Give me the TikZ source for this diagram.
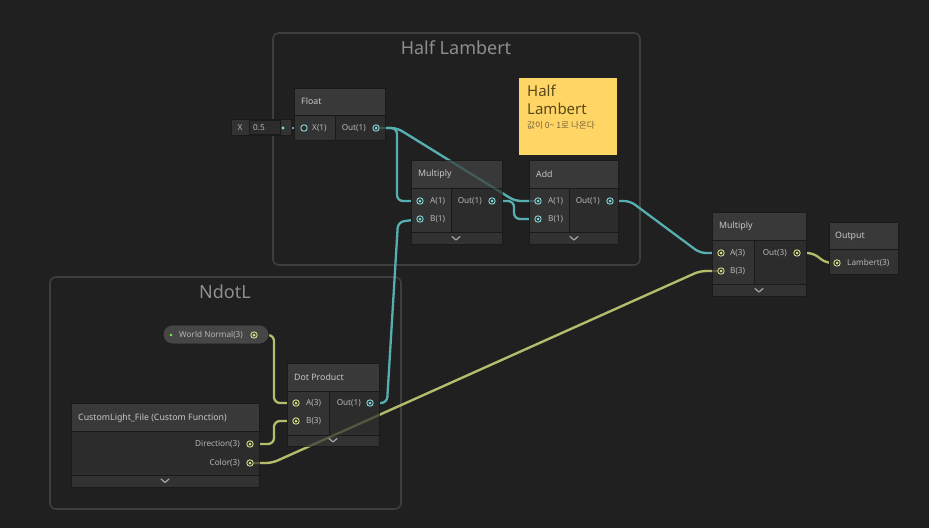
\documentclass[tikz,border=0pt]{standalone}
\usepackage{fontspec}
\setmainfont{Noto Sans}
\newfontfamily\krfont{Noto Sans CJK KR}
\usetikzlibrary{calc}
\definecolor{bg}{HTML}{202020}
\definecolor{grpedge}{HTML}{3E3E3E}
\definecolor{grptext}{HTML}{8E8E8E}
\definecolor{hdr}{HTML}{393939}
\definecolor{inA}{HTML}{333333}
\definecolor{outA}{HTML}{2C2C2C}
\definecolor{foot}{HTML}{323232}
\definecolor{edge}{HTML}{1A1A1A}
\definecolor{ttext}{HTML}{C6C6C6}
\definecolor{ptext}{HTML}{B6B6B6}
\definecolor{tealw}{HTML}{57AEB0}
\definecolor{tealp}{HTML}{86D9DA}
\definecolor{yelw}{HTML}{B5BC6C}
\definecolor{yelp}{HTML}{D8DD88}
\definecolor{sticky}{HTML}{FFD566}
\definecolor{stext}{HTML}{5A4818}
\definecolor{pill}{HTML}{464646}
\begin{document}
\begin{tikzpicture}[x=1pt,y=-1pt,
  box/.style={draw=edge, line width=0.6pt, inner sep=0pt, outer sep=0pt, anchor=north west},
  grp/.style={draw=grpedge, line width=1.6pt, rounded corners=6pt, fill=bg},
  grptitle/.style={text=grptext, font=\fontsize{18}{20}\selectfont, inner sep=0pt},
  ntitle/.style={text=ttext, font=\fontsize{8.8}{10}\selectfont, anchor=west, inner sep=0pt},
  plabel/.style={text=ptext, font=\fontsize{8.2}{10}\selectfont, inner sep=0pt},
  tp/.style={circle, draw=tealp, line width=0.9pt, fill=outA, minimum size=6.4pt, inner sep=0pt,
    path picture={\fill[tealp] (path picture bounding box.center) circle (1.5pt);}},
  tph/.style={circle, draw=tealp, line width=0.9pt, fill=outA, minimum size=6.4pt, inner sep=0pt},
  yp/.style={circle, draw=yelp, line width=0.9pt, fill=outA, minimum size=6.4pt, inner sep=0pt,
    path picture={\fill[yelp] (path picture bounding box.center) circle (1.5pt);}},
  twire/.style={draw=tealw, line width=2.3pt, rounded corners=6pt},
  ywire/.style={draw=yelw, line width=2.3pt, rounded corners=6pt},
  chev/.style={draw=ptext!120, line width=1.2pt, line cap=round, line join=round}
]
\useasboundingbox (0,0) rectangle (929,528);
\fill[bg] (0,0) rectangle (929,528);

% groups
\draw[grp] (273,33) rectangle (640,265);
\node[grptitle] (g1) at (456,47.5) {Half Lambert};
\draw[grp] (50,277) rectangle (401,509);
\node[grptitle] (g2) at (225,291.5) {NdotL};

% port coordinates
\coordinate (cfOut) at (376,128);
\coordinate (cfIn) at (304,128);
\coordinate (cmA) at (420,201);
\coordinate (cmB) at (420,219);
\coordinate (cmOut) at (492,201);
\coordinate (caA) at (538,201);
\coordinate (caB) at (538,219);
\coordinate (caOut) at (610,201);
\coordinate (cm2A) at (721,253);
\coordinate (cm2B) at (721,271);
\coordinate (cm2Out) at (797,253);
\coordinate (coIn) at (837,263);
\coordinate (cwn) at (254,335);
\coordinate (cdA) at (296,403);
\coordinate (cdB) at (296,421);
\coordinate (cdOut) at (370,403);
\coordinate (cdir) at (250,444);
\coordinate (ccol) at (250,463);
\coordinate (cxv) at (283,128);

% wires (under nodes)
\draw[twire] (cxv) -- (cfIn);
\draw[twire] (cfOut) -- (397,128) -- (397,201) -- (cmA);
\draw[twire] (cfOut) -- (397,128) -- (515,201) -- (caA);
\draw[twire] (cmOut) -- (514,201) -- (514,219) -- (caB);
\draw[twire] (caOut) -- (630,201) -- (700,253) -- (cm2A);
\draw[twire] (cdOut) -- (387,403) -- (398,222) -- (cmB);
\draw[ywire] (cwn) -- (274,335) -- (274,403) -- (cdA);
\draw[ywire] (cdir) -- (274,444) -- (274,421) -- (cdB);
\draw[ywire] (ccol) -- (272,463) -- (700,271) -- (cm2B);
\draw[ywire] (cm2Out) -- (813,253) -- (826,263) -- (coIn);

% Float node
\node[box, fill=hdr, minimum width=91pt, minimum height=27pt] (floatH) at (294,88) {};
\node[box, fill=inA, minimum width=41pt, minimum height=25pt] (floatI) at (294,115) {};
\node[box, fill=outA, minimum width=50pt, minimum height=25pt] (floatO) at (335,115) {};
\node[ntitle] (floatT) at (301,101.5) {Float};
\node[plabel, anchor=west] (floatX) at (312,128) {X(1)};
\node[plabel, anchor=east] (floatOl) at (366,128) {Out(1)};
% inline value
\node[box, fill=inA, minimum width=60pt, minimum height=16pt] (xbox) at (231,119) {};
\node[box, fill=outA, minimum width=31pt, minimum height=14pt] (xfield) at (249,120) {};
\node[plabel] (xl) at (240,127.5) {X};
\node[plabel, anchor=west] (xv) at (253,127.5) {0.5};
\fill[tealp] (cxv) circle (1.6pt);

% Multiply 1
\node[box, fill=hdr, minimum width=91pt, minimum height=28pt] (m1H) at (411,160) {};
\node[box, fill=inA, minimum width=40pt, minimum height=44pt] (m1I) at (411,188) {};
\node[box, fill=outA, minimum width=51pt, minimum height=44pt] (m1O) at (451,188) {};
\node[box, fill=foot, minimum width=91pt, minimum height=12pt] (m1F) at (411,232) {};
\node[ntitle] (m1T) at (418,174) {Multiply};
\node[plabel, anchor=west] (m1a) at (430,201) {A(1)};
\node[plabel, anchor=west] (m1b) at (430,219) {B(1)};
\node[plabel, anchor=east] (m1o) at (482,201) {Out(1)};
\draw[chev] (452,236.5) -- (456,240) -- (460,236.5);

% Add
\node[box, fill=hdr, minimum width=89pt, minimum height=28pt] (aH) at (529,160) {};
\node[box, fill=inA, minimum width=40pt, minimum height=44pt] (aI) at (529,188) {};
\node[box, fill=outA, minimum width=49pt, minimum height=44pt] (aO) at (569,188) {};
\node[box, fill=foot, minimum width=89pt, minimum height=12pt] (aF) at (529,232) {};
\node[ntitle] (aT) at (536,174) {Add};
\node[plabel, anchor=west] (aa) at (548,201) {A(1)};
\node[plabel, anchor=west] (ab) at (548,219) {B(1)};
\node[plabel, anchor=east] (ao) at (600,201) {Out(1)};
\draw[chev] (570,236.5) -- (574,240) -- (578,236.5);

% Sticky note
\node[box, draw=none, fill=sticky, minimum width=98pt, minimum height=77pt] (note) at (519,78) {};
\node[anchor=north west, inner sep=0pt, text=stext, align=left,
  font=\fontsize{15}{18}\selectfont] (noteT) at (527,84.5) {Half\\Lambert};
\node[anchor=west, inner sep=0pt, text=stext!85, font=\krfont\fontsize{8.6}{10}\selectfont] (noteK) at (527,125) {값이 0\textasciitilde{} 1로 나온다};

% Multiply 2
\node[box, fill=hdr, minimum width=94pt, minimum height=28pt] (m2H) at (712,212) {};
\node[box, fill=inA, minimum width=42pt, minimum height=44pt] (m2I) at (712,240) {};
\node[box, fill=outA, minimum width=52pt, minimum height=44pt] (m2O) at (754,240) {};
\node[box, fill=foot, minimum width=94pt, minimum height=12pt] (m2F) at (712,284) {};
\node[ntitle] (m2T) at (719,226) {Multiply};
\node[plabel, anchor=west] (m2a) at (730,253) {A(3)};
\node[plabel, anchor=west] (m2b) at (730,271) {B(3)};
\node[plabel, anchor=east] (m2o) at (787,253) {Out(3)};
\draw[chev] (755,288.5) -- (759,292) -- (763,288.5);

% Output
\node[box, fill=hdr, minimum width=69pt, minimum height=27pt] (oH) at (829,222) {};
\node[box, fill=inA, minimum width=69pt, minimum height=25pt] (oI) at (829,249) {};
\node[ntitle] (oT) at (835,236) {Output};
\node[plabel, anchor=west] (ol) at (847,263) {Lambert(3)};

% World Normal pill
\node[box, fill=pill, rounded corners=9.5pt, minimum width=106pt, minimum height=19pt] (wn) at (163,325) {};
\fill[green!70!yellow!80!white] (171,335) circle (1.4pt);
\node[plabel, anchor=west] (wnl) at (179,335) {World Normal(3)};

% Dot Product
\node[box, fill=hdr, minimum width=92pt, minimum height=28pt] (dH) at (287,363) {};
\node[box, fill=inA, minimum width=42pt, minimum height=44pt] (dI) at (287,391) {};
\node[box, fill=outA, minimum width=50pt, minimum height=44pt] (dO) at (329,391) {};
\node[box, fill=foot, minimum width=92pt, minimum height=11pt] (dF) at (287,435) {};
\node[ntitle] (dT) at (294,377) {Dot Product};
\node[plabel, anchor=west] (da) at (306,403) {A(3)};
\node[plabel, anchor=west] (db) at (306,421) {B(3)};
\node[plabel, anchor=east] (do) at (361,403) {Out(1)};
\draw[chev] (329,438.5) -- (333,442) -- (337,438.5);

% CustomLight
\node[box, fill=hdr, minimum width=188pt, minimum height=28pt] (cH) at (71,403) {};
\node[box, fill=outA, minimum width=188pt, minimum height=44pt] (cO) at (71,431) {};
\node[box, fill=foot, minimum width=188pt, minimum height=12pt] (cF) at (71,475) {};
\node[ntitle] (cT) at (78,418) {CustomLight\_File (Custom Function)};
\node[plabel, anchor=east] (cdl) at (240,444) {Direction(3)};
\node[plabel, anchor=east] (ccl) at (240,463) {Color(3)};
\draw[chev] (161,479) -- (165,482.5) -- (169,479);

% dimmed wire crossings over nodes
\draw[twire, opacity=0.3] (cfOut) -- (397,128) -- (515,201) -- (caA);
\draw[ywire, opacity=0.3] (ccol) -- (272,463) -- (700,271) -- (cm2B);

% ports
\node[tph] (fIn) at (cfIn) {};
\node[tp] (fOut) at (cfOut) {};
\node[tp] (mA) at (cmA) {};
\node[tp] (mB) at (cmB) {};
\node[tp] (mOut) at (cmOut) {};
\node[tp] (aA) at (caA) {};
\node[tp] (aB) at (caB) {};
\node[tp] (aOut) at (caOut) {};
\node[yp] (m2A) at (cm2A) {};
\node[yp] (m2B) at (cm2B) {};
\node[yp] (m2Out) at (cm2Out) {};
\node[yp] (oIn) at (coIn) {};
\node[yp, fill=pill] (wnOut) at (cwn) {};
\node[yp] (dA) at (cdA) {};
\node[yp] (dB) at (cdB) {};
\node[tp] (dOut) at (cdOut) {};
\node[yp] (dir) at (cdir) {};
\node[yp] (col) at (ccol) {};
\end{tikzpicture}
\end{document}
